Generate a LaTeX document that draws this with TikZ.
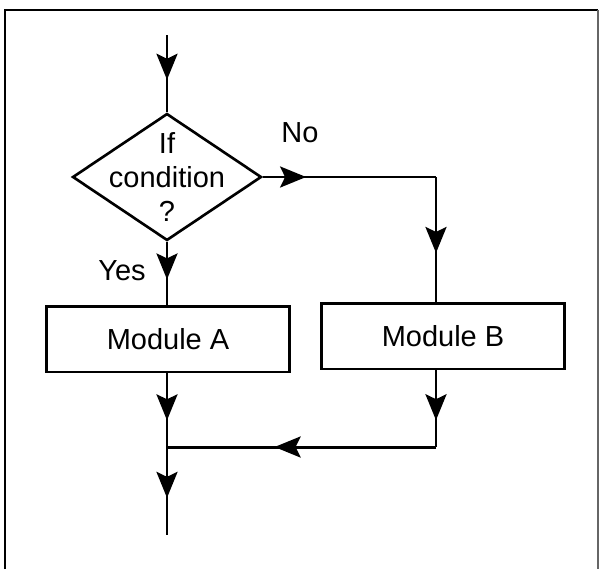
\documentclass[tikz,border=0pt]{standalone}
\usepackage{fontspec}
\setmainfont{Liberation Sans}
\usetikzlibrary{arrows.meta,decorations.markings,shapes.geometric}
\newcommand\flowtip{\arrow{Stealth[length=0.52cm,width=0.42cm,inset=0.1cm]}}
\tikzset{
	flowline/.style={line width=1.7pt},
	midarrow/.style={flowline, postaction={decorate}, decoration={markings, mark=at position #1 with {\flowtip}}},
	midarrow/.default=0.5,
	decision/.style={diamond, draw, line width=1.5pt, inner sep=0pt, minimum width=3.78cm, minimum height=2.54cm},
	module/.style={rectangle, draw, line width=1.7pt, minimum width=4.88cm, minimum height=1.32cm},
}

\begin{document}
\begin{tikzpicture}[x=0.02cm, y=-0.02cm, font=\fontsize{16.5}{19.5}\selectfont]
		%%%%% START %%%%%
		\useasboundingbox (0, 0) rectangle (599, 569);
		\draw[line width=1.7pt] (5, 569) -- (5, 10) -- (598, 10);
		\draw[line width=1pt, black!60] (598, 10) -- (598, 569);
		
		\node[decision, label={[align=center]center:If\\condition\\?}] (cond) at (167, 177) {};
		\node[module] (modA) at (168, 339) {Module A};
		\node[module] (modB) at (443, 336) {Module B};
		
		\node (yes) at (122, 271) {Yes};
		\node (no) at (300, 133) {No};
		
		\coordinate (start) at (167, 35);
		\coordinate (turn) at (436, 177);
		\coordinate (back) at (436, 447);
		\coordinate (joint) at (167, 447);
		\coordinate (finish) at (167, 535);
		
		\draw[midarrow=0.58] (start) -- (cond.north);
		\draw[midarrow=0.6] (cond.south) -- (cond.south |- modA.north);
		\draw[midarrow=0.25] (cond.east) -- (turn);
		\draw[midarrow=0.61] (turn) -- (turn |- modB.north);
		\draw[midarrow=0.65] (turn |- modB.south) -- (back);
		\draw[midarrow=0.6] (back) -- (joint);
		\draw[flowline, postaction={decorate}, decoration={markings, mark=at position 0.29 with {\flowtip}, mark=at position 0.77 with {\flowtip}}] (cond.south |- modA.south) -- (finish);
		%%%%% END %%%%%
	\end{tikzpicture}
\end{document}
